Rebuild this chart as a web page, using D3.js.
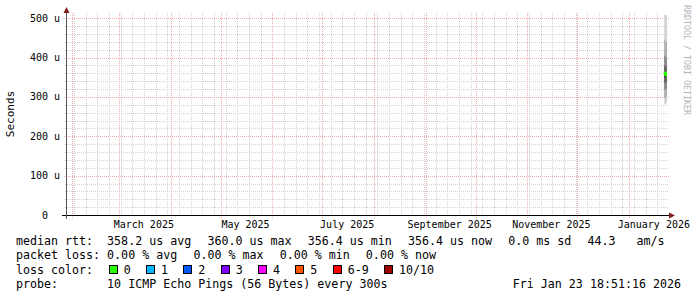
<!DOCTYPE html>
<html>
<head>
<meta charset="utf-8">
<script src="https://cdn.jsdelivr.net/npm/d3@7"></script>
<style>
    body { margin: 0; background: #fff; }
    text { font-family: "DejaVu Sans Mono", monospace; }
</style>
</head>
<body>
<div id="chart"></div>
<script>
// Graph covers the last 360 days up to the time stamp
const endTime = new Date('2026-01-23T18:51:16Z');
const spanDays = 360;

// Y axis values (microseconds)
const yTickValues = [0, 100, 200, 300, 400, 500];
const yMax = 508;

// Months that carry a label on the x axis
const labelMonths = ['2025-03-01', '2025-05-01', '2025-07-01', '2025-09-01', '2025-11-01', '2026-01-01'];

// Smoke samples: start time, 10 sorted pings (us), median, lost pings
const sampleTimes = ['2026-01-22T02:00:00Z', '2026-01-22T16:00:00Z', '2026-01-23T06:00:00Z'];
const samplePings = [
    [282, 298, 318, 335, 348, 362, 380, 405, 445, 520],
    [280, 296, 320, 338, 350, 360, 378, 402, 440, 520],
    [285, 300, 322, 340, 352, 358, 375, 400, 438, 520]
];
const sampleMedian = [358.2, 360.0, 356.4];
const sampleLoss = [0, 0, 0];

// Legend contents
const statLine1 = ['median rtt:  358.2 us avg', '360.0 us max', '356.4 us min', '356.4 us now', '0.0 ms sd', '44.3   am/s'];
const statLine2 = ['packet loss: 0.00 % avg', '0.00 % max', '0.00 % min', '0.00 % now'];
const lossTitle = 'loss color:';
const lossLabels = ['0', '1', '2', '3', '4', '5', '6-9', '10/10'];
const lossColors = ['#26ff00', '#00b8ff', '#0059ff', '#7e00ff', '#ff00ff', '#ff5500', '#ff0000', '#a10000'];
const probeText = 'probe:       10 ICMP Echo Pings (56 Bytes) every 300s';
const stampText = 'Fri Jan 23 18:51:16 2026';

const width = 697,
    height = 297;
const plotLeft = 67,
    plotRight = 667,
    plotTop = 15,
    plotBottom = 215;
const charW = 7.02; // legend glyph advance
const gridCol = '#d2d2d2';
const mgridCol = '#eeaaaa';
const arrowCol = '#7f1f1f';
const smokeGrays = ['#d4d4d4', '#b0b0b0', '#8a8a8a', '#646464', '#404040'];

const startTime = d3.utcDay.offset(endTime, -spanDays);
const x = d3.scaleUtc().domain([startTime, endTime]).range([plotLeft, plotRight]);
const y = d3.scaleLinear().domain([0, yMax]).range([plotBottom, plotTop]);
const px = (v) => Math.round(v) + 0.5;
// keep runs of spaces in the monospace legend
const keep = (s) => s.replace(/ /g, '\u00a0');

const svg = d3
    .select('#chart')
    .append('svg')
    .attr('width', width)
    .attr('height', height)
    .attr('viewBox', `0 0 ${width} ${height}`);

svg.append('rect').attr('width', width).attr('height', height).attr('fill', '#fff');

// Grid: minor (weekly / 20 u) then major (monthly / 100 u), minor skipped under major
const monthStarts = d3.utcMonth.range(startTime, endTime);
const majorX = new Set(monthStarts.map((d) => px(x(d))));
const grid = svg.append('g').attr('shape-rendering', 'crispEdges').attr('stroke-dasharray', '1,1');
grid.selectAll('.vminor')
    .data(d3.utcSunday.range(startTime, endTime).filter((d) => !majorX.has(px(x(d)))))
    .enter()
    .append('line')
    .attr('x1', (d) => px(x(d)))
    .attr('x2', (d) => px(x(d)))
    .attr('y1', plotTop - 2)
    .attr('y2', plotBottom + 2)
    .attr('stroke', gridCol);
grid.selectAll('.hminor')
    .data(y.ticks(25).filter((d) => !yTickValues.includes(d)))
    .enter()
    .append('line')
    .attr('x1', plotLeft - 2)
    .attr('x2', plotRight + 2)
    .attr('y1', (d) => px(y(d)))
    .attr('y2', (d) => px(y(d)))
    .attr('stroke', gridCol);
grid.selectAll('.vmajor')
    .data(monthStarts)
    .enter()
    .append('line')
    .attr('x1', (d) => px(x(d)))
    .attr('x2', (d) => px(x(d)))
    .attr('y1', plotTop - 2)
    .attr('y2', plotBottom + 3)
    .attr('stroke', mgridCol);
grid.selectAll('.hmajor')
    .data(yTickValues)
    .enter()
    .append('line')
    .attr('x1', plotLeft - 3)
    .attr('x2', plotRight + 2)
    .attr('y1', (d) => px(y(d)))
    .attr('y2', (d) => px(y(d)))
    .attr('stroke', mgridCol);

// Smoke: bands between ping k and ping n-1-k, outermost first
svg.append('clipPath')
    .attr('id', 'plot')
    .append('rect')
    .attr('x', plotLeft)
    .attr('y', plotTop)
    .attr('width', plotRight - plotLeft)
    .attr('height', plotBottom - plotTop);

const samples = sampleTimes.map((t, i) => ({
    t: new Date(t),
    pings: samplePings[i],
    median: sampleMedian[i],
    loss: sampleLoss[i]
}));
const stepped = samples.concat([{ ...samples[samples.length - 1], t: endTime }]);
const smoke = svg.append('g').attr('clip-path', 'url(#plot)');
smokeGrays.forEach((col, k) => {
    const area = d3
        .area()
        .curve(d3.curveStepAfter)
        .x((d) => x(d.t))
        .y0((d) => y(d.pings[k]))
        .y1((d) => y(d.pings[d.pings.length - 1 - k]));
    smoke.append('path').datum(stepped).attr('d', area).attr('fill', col);
});
const medianLine = d3
    .line()
    .curve(d3.curveStepAfter)
    .x((d) => x(d.t))
    .y((d) => y(d.median));
smoke.append('path')
    .datum(stepped)
    .attr('d', medianLine)
    .attr('fill', 'none')
    .attr('stroke', lossColors[sampleLoss[0]])
    .attr('stroke-width', 3);

// Axes with arrows
svg.append('line')
    .attr('x1', plotLeft - 5)
    .attr('x2', plotRight + 3)
    .attr('y1', plotBottom + 0.5)
    .attr('y2', plotBottom + 0.5)
    .attr('stroke', '#000')
    .attr('shape-rendering', 'crispEdges');
svg.append('path')
    .attr('d', `M${plotRight + 2},${plotBottom - 2.5}L${plotRight + 8},${plotBottom + 0.5}L${plotRight + 2},${plotBottom + 3.5}Z`)
    .attr('fill', arrowCol);
svg.append('line')
    .attr('x1', plotLeft - 0.5)
    .attr('x2', plotLeft - 0.5)
    .attr('y1', plotBottom + 4)
    .attr('y2', plotTop - 3)
    .attr('stroke', '#555')
    .attr('shape-rendering', 'crispEdges');
svg.append('path')
    .attr('d', `M${plotLeft - 3.5},${plotTop - 2}L${plotLeft - 0.5},${plotTop - 8}L${plotLeft + 2.5},${plotTop - 2}Z`)
    .attr('fill', arrowCol);

// Y labels
svg.selectAll('.ylab')
    .data(yTickValues)
    .enter()
    .append('text')
    .attr('x', (d) => (d === 0 ? 48 : 60))
    .attr('y', (d) => y(d))
    .attr('dy', '0.36em')
    .attr('text-anchor', 'end')
    .attr('font-size', '10px')
    .attr('fill', '#000')
    .text((d) => (d === 0 ? '0' : keep(`${d} u`)));

// X labels centred in their month
const fmtMonth = d3.utcFormat('%B %Y');
svg.selectAll('.xlab')
    .data(labelMonths.map((m) => new Date(m + 'T00:00:00Z')))
    .enter()
    .append('text')
    .attr('x', (d) => (x(d) + x(d3.utcMonth.offset(d, 1))) / 2 - 1)
    .attr('y', 228)
    .attr('text-anchor', 'middle')
    .attr('font-size', '10px')
    .text((d) => fmtMonth(d));

svg.append('text')
    .attr('transform', 'translate(14,114) rotate(-90)')
    .attr('text-anchor', 'middle')
    .attr('font-size', '11px')
    .text('Seconds');

svg.append('text')
    .attr('transform', 'translate(684,5) rotate(90)')
    .attr('font-size', '8.3px')
    .attr('fill', '#b4b4b4')
    .text('RRDTOOL / TOBI OETIKER');

// Legend rows
const legend = svg.append('g').attr('font-size', '11.65px');
const legendRow = (items, yPos) => {
    let lx = 16;
    items.forEach((s) => {
        legend.append('text').attr('x', lx).attr('y', yPos).text(keep(s));
        lx += s.length * charW + 16;
    });
};
legendRow(statLine1, 244.5);
legendRow(statLine2, 259);

legend.append('text').attr('x', 16).attr('y', 273.5).text(keep(lossTitle));
let bx = 16 + lossTitle.length * charW + 15.5;
lossLabels.forEach((lab, i) => {
    legend.append('rect')
        .attr('x', Math.round(bx) + 0.5)
        .attr('y', 265.5)
        .attr('width', 8)
        .attr('height', 8)
        .attr('fill', lossColors[i])
        .attr('stroke', '#000');
    legend.append('text').attr('x', bx + 15).attr('y', 273.5).text(lab);
    bx += 15 + lab.length * charW + 15.3;
});

legend.append('text').attr('x', 16).attr('y', 287.5).text(keep(probeText));
legend.append('text').attr('x', 681).attr('y', 287.5).attr('text-anchor', 'end').text(keep(stampText));
</script>
</body>
</html>
